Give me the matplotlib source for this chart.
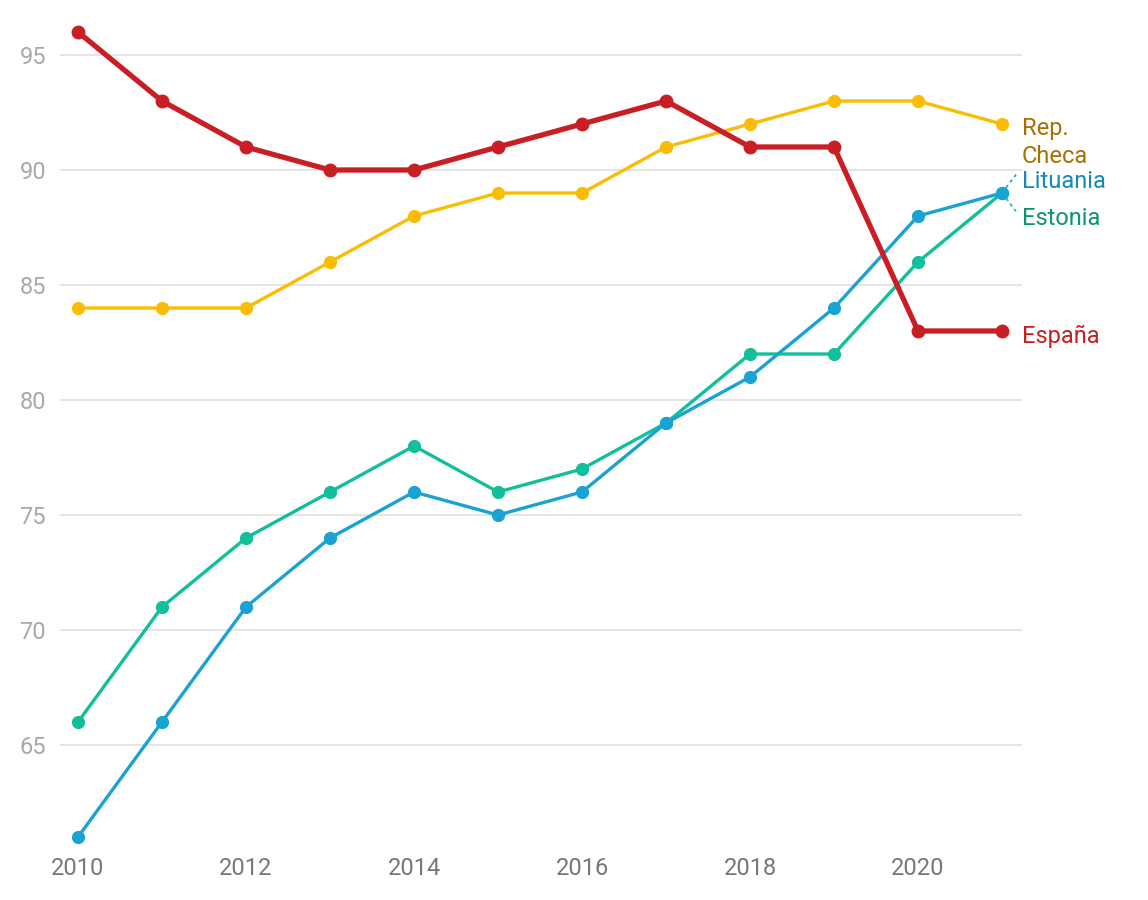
import matplotlib
matplotlib.use("Agg")
import matplotlib.pyplot as plt

plt.rcParams['font.family'] = ['Roboto', 'DejaVu Sans']

years = list(range(2010, 2022))
espana = [96, 93, 91, 90, 90, 91, 92, 93, 91, 91, 83, 83]
checa = [84, 84, 84, 86, 88, 89, 89, 91, 92, 93, 93, 92]
estonia = [66, 71, 74, 76, 78, 76, 77, 79, 82, 82, 86, 89]
lituania = [61, 66, 71, 74, 76, 75, 76, 79, 81, 84, 88, 89]
yticks = [65, 70, 75, 80, 85, 90, 95]
xticks = [2010, 2012, 2014, 2016, 2018, 2020]

W, H = 1148, 900
fig = plt.figure(figsize=(W / 100, H / 100), dpi=100)
ax = fig.add_axes([60 / W, 1 - 850 / H, (1022 - 60) / W, (850 - 20) / H])

ax.set_xlim(2010 + (60 - 78) / 84, 2010 + (1022 - 78) / 84)
ax.set_ylim(95 - (850 - 55) / 23, 95 + 35 / 23)

c_checa = '#fbbc05'
c_est = '#12bf9b'
c_lit = '#1aa2d2'
c_esp = '#c81e24'

ax.plot(years, checa, color=c_checa, lw=2.4, marker='o', ms=8.5, zorder=3)
ax.plot(years, estonia, color=c_est, lw=2.4, marker='o', ms=8.5, zorder=4)
ax.plot(years, lituania, color=c_lit, lw=2.4, marker='o', ms=8.5, zorder=5)
ax.plot(years, espana, color=c_esp, lw=3.8, marker='o', ms=9, zorder=6)

ax.set_yticks(yticks)
ax.set_xticks(xticks)
ax.grid(axis='y', color='#e3e3e3', lw=1.3)
ax.grid(axis='x', visible=False)
ax.set_axisbelow(True)
for s in ax.spines.values():
    s.set_visible(False)
ax.tick_params(axis='both', length=0)
ax.tick_params(axis='y', labelsize=17, labelcolor='#a9a9a9', pad=10)
ax.tick_params(axis='x', labelsize=17, labelcolor='#777777', pad=5)

# labels
lx = 2021 + 20 / 84
ax.text(lx, 91.2, 'Rep.\nCheca', color='#a87000', fontsize=17, va='center',
        ha='left', linespacing=1.3)
ax.text(lx, 89.5, 'Lituania', color='#1789b5', fontsize=17, va='center', ha='left')
ax.text(lx, 87.91, 'Estonia', color='#0e9275', fontsize=17, va='center', ha='left')
ax.text(lx, 82.78, 'España', color='#c81e24', fontsize=17, va='center', ha='left')

# leader lines
ax.plot([2021, 2021 + 14 / 84], [89, 89.8], color=c_lit, lw=1.2, ls=(0, (2, 2)), zorder=2)
ax.plot([2021, 2021 + 14 / 84], [89, 88.2], color=c_est, lw=1.2, ls=(0, (2, 2)), zorder=2)

for lab in ax.get_xticklabels() + ax.get_yticklabels():
    lab.set_clip_on(False)

fig.savefig('out.png', dpi=100)
